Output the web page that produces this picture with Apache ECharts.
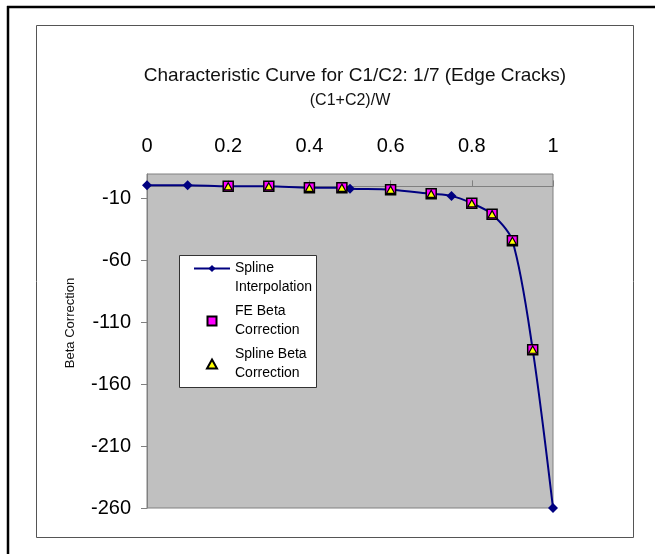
<!DOCTYPE html>
<html>
<head>
<meta charset="utf-8">
<script src="https://cdn.jsdelivr.net/npm/echarts@6/dist/echarts.min.js"></script>
<style>
  html, body { margin: 0; padding: 0; background: #fff; }
  #chart { width: 655px; height: 554px; }
</style>
</head>
<body>
<div id="chart"></div>
<script>
// (C1+C2)/W positions and beta values
var splineX = [0, 0.1, 0.2, 0.3, 0.4, 0.48, 0.5, 0.6, 0.7, 0.75, 0.8, 0.85, 0.9, 0.95, 1];
var splineY = [1, 1, 0, 0, -1.2, -1.1, -1.9, -2.7, -6, -7.7, -13.7, -22.5, -44, -132, -260];

var feX = [0.2, 0.3, 0.4, 0.48, 0.6, 0.7, 0.8, 0.85, 0.9, 0.95];
var feY = [0, 0, -1.2, -1.1, -2.7, -6, -13.7, -22.5, -44, -132];
var splineBetaY = [0, 0, -1.2, -1.1, -2.7, -6, -13.7, -22.5, -44, -132];

var seriesNames = ["Spline Interpolation", "FE Beta Correction", "Spline Beta Correction"];
// leading blank line keeps the icon on the first text line
var legendLabels = ["\nSpline\nInterpolation", "FE Beta\nCorrection", "Spline Beta\nCorrection"];

var SQUARE = "path://M0,0L10,0L10,10L0,10Z";
var TRIANGLE = "path://M5,0L10,9L0,9Z";

function pairs(xs, ys) {
  return xs.map(function (x, i) { return [x, ys[i]]; });
}

var FONT = "Liberation Sans";
var chart = echarts.init(document.getElementById("chart"));

chart.setOption({
  animation: false,
  backgroundColor: "#fff",
  textStyle: { fontFamily: FONT, color: "#000" },
  title: {
    text: "Characteristic Curve for C1/C2: 1/7 (Edge Cracks)",
    left: 350,
    textAlign: "center",
    top: 61,
    textStyle: { fontFamily: FONT, fontSize: 19, fontWeight: "normal", color: "#111" }
  },
  graphic: [
    { type: "line", shape: { x1: 8, y1: 6, x2: 8, y2: 554 }, style: { stroke: "#000", lineWidth: 2.5 }, z: 0 },
    { type: "line", shape: { x1: 7, y1: 7, x2: 655, y2: 7 }, style: { stroke: "#000", lineWidth: 2.5 }, z: 0 },
    { type: "rect", shape: { x: 36.5, y: 25.5, width: 597, height: 512 }, style: { fill: null, stroke: "#555", lineWidth: 1 }, z: 0 },
    { type: "rect", shape: { x: 179.5, y: 255.5, width: 137, height: 132 }, style: { fill: "#fff", stroke: "#333", lineWidth: 1 }, z: 3 }
  ],
  grid: {
    left: 147, right: 102, top: 174, bottom: 46,
    show: true, backgroundColor: "#c0c0c0", borderColor: "#808080", borderWidth: 1
  },
  legend: {
    orient: "vertical",
    left: 193,
    top: 240,
    padding: 0,
    itemGap: 5,
    itemWidth: 36,
    itemHeight: 9,
    z: 4,
    textStyle: { fontFamily: FONT, fontSize: 14, lineHeight: 19, color: "#000" },
    formatter: function (name) { return legendLabels[seriesNames.indexOf(name)]; },
    data: [
      { name: seriesNames[0] },
      { name: seriesNames[1], icon: SQUARE },
      { name: seriesNames[2], icon: TRIANGLE }
    ]
  },
  xAxis: {
    type: "value",
    position: "top",
    min: 0, max: 1, interval: 0.2,
    name: "(C1+C2)/W",
    nameLocation: "middle",
    nameGap: 65,
    nameTextStyle: { fontFamily: FONT, fontSize: 16, color: "#111" },
    axisLine: { lineStyle: { color: "#808080", width: 1 } },
    axisTick: { show: true, length: 6, lineStyle: { color: "#808080" } },
    axisLabel: { fontFamily: FONT, fontSize: 20, color: "#000", margin: 18 },
    splitLine: { show: false }
  },
  yAxis: {
    type: "value",
    min: -260, max: 10, interval: 50,
    name: "Beta Correction",
    nameLocation: "middle",
    nameGap: 70,
    nameRotate: 90,
    nameTextStyle: { fontFamily: FONT, fontSize: 13, color: "#111", padding: [0, 0, 0, 36] },
    axisLine: { show: true, lineStyle: { color: "#808080", width: 1 } },
    axisTick: { show: true, length: 6, lineStyle: { color: "#808080" } },
    axisLabel: { fontFamily: FONT, fontSize: 20, color: "#000", margin: 16, showMaxLabel: false },
    splitLine: { show: false }
  },
  series: [
    {
      name: seriesNames[0],
      type: "line",
      data: pairs(splineX, splineY),
      smooth: 0.3,
      clip: false,
      symbol: "diamond",
      symbolSize: 10,
      lineStyle: { color: "#000080", width: 2 },
      itemStyle: { color: "#000080" },
      z: 2
    },
    {
      name: seriesNames[1],
      type: "scatter",
      data: pairs(feX, feY),
      symbol: SQUARE,
      symbolSize: 10,
      symbolKeepAspect: true,
      itemStyle: { color: "#ff00ff", borderColor: "#000", borderWidth: 1.5, opacity: 1 },
      z: 3
    },
    {
      name: seriesNames[2],
      type: "scatter",
      data: pairs(feX, splineBetaY),
      symbol: TRIANGLE,
      symbolSize: 8,
      symbolKeepAspect: true,
      itemStyle: { color: "#ffff00", borderColor: "#000", borderWidth: 1.2, opacity: 1 },
      z: 4
    }
  ]
});
</script>
</body>
</html>
